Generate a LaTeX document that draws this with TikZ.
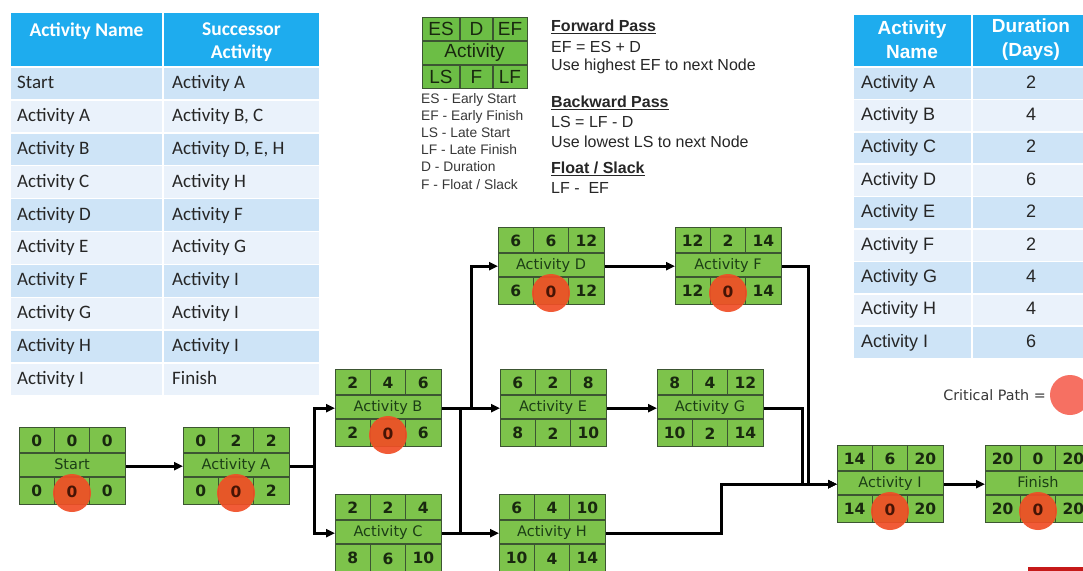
\documentclass[tikz,border=0pt]{standalone}
\usepackage{fontspec}
\usetikzlibrary{arrows.meta,calc}
\newfontfamily\calfont{Carlito}
\newfontfamily\arfont{Liberation Sans}
\newfontfamily\dvfont{DejaVu Sans}
\definecolor{hdrblue}{RGB}{30,172,238}
\definecolor{rowblue}{RGB}{206,228,247}
\definecolor{rowlight}{RGB}{234,242,251}
\definecolor{nodegreen}{RGB}{125,195,75}
\definecolor{legendgreen}{RGB}{108,190,69}
\definecolor{nodeborder}{RGB}{60,85,50}
\definecolor{critred}{RGB}{240,78,38}
\definecolor{critlegend}{RGB}{246,112,98}
\definecolor{numcol}{RGB}{25,40,15}
\definecolor{namecol}{RGB}{28,62,22}
\definecolor{zerocol}{RGB}{70,20,5}
\definecolor{txtgray}{RGB}{55,55,55}
\newif\ifcrit
\tikzset{
  actbox/.style={draw=nodeborder, fill=nodegreen, line width=1.3pt, minimum width=106pt, minimum height=77pt, inner sep=0pt, anchor=north west},
  gridline/.style={draw=nodeborder, line width=1.1pt},
  numtxt/.style={font=\dvfont\bfseries\fontsize{15.5}{18}\selectfont, text=numcol, inner sep=0pt},
  nametxt/.style={font=\dvfont\fontsize{14.5}{17}\selectfont, text=namecol, inner sep=0pt, text height=11pt, text depth=3pt},
  critdot/.style={fill=critred, opacity=0.92},
  conn/.style={line width=2.8pt, draw=black},
  arr/.style={conn, -{Triangle[length=9pt,width=8pt]}},
  cell/.style={draw=white, line width=1.5pt},
  ltxt/.style={font=\calfont\fontsize{19}{22}\selectfont, text=black!85, inner sep=0pt, text height=13pt, text depth=4pt},
  lhdr/.style={font=\calfont\bfseries\fontsize{19.5}{23}\selectfont, text=white, inner sep=0pt, align=center},
  rtxt/.style={font=\arfont\fontsize{18}{21}\selectfont, text=black!85, inner sep=0pt, text height=13pt, text depth=4pt},
  rhdr/.style={font=\arfont\bfseries\fontsize{19}{24}\selectfont, text=white, inner sep=0pt, align=center},
  legbig/.style={font=\arfont\fontsize{19}{22}\selectfont, text=numcol, inner sep=0pt},
  legsmall/.style={font=\arfont\fontsize{13.8}{16}\selectfont, text=txtgray, inner sep=0pt, anchor=west},
  passtxt/.style={font=\arfont\fontsize{16}{19}\selectfont, text=black!85, inner sep=0pt, anchor=west},
  passhead/.style={font=\arfont\bfseries\fontsize{16}{19}\selectfont, text=black!85, inner sep=0pt, anchor=west},
}
\newcommand{\cpmnode}[9]{%
  \ifcrit\def\fzcol{zerocol}\else\def\fzcol{numcol}\fi
  \node[actbox] (#1) at (#2) {};
  \draw[gridline] ($(#1.north west)+(0,26)$) -- ($(#1.north east)+(0,26)$);
  \draw[gridline] ($(#1.north west)+(0,50)$) -- ($(#1.north east)+(0,50)$);
  \foreach \dx in {35.33,70.67} {
    \draw[gridline] ($(#1.north west)+(\dx,0)$) -- ++(0,26);
    \draw[gridline] ($(#1.north west)+(\dx,50)$) -- ++(0,27);
  }
  \ifcrit \fill[critdot] ($(#1.north west)+(53,66)$) circle[radius=19]; \fi
  \node[numtxt] (#1-es) at ($(#1.north west)+(17.7,13.5)$) {#3};
  \node[numtxt] (#1-d)  at ($(#1.north west)+(53,13.5)$) {#4};
  \node[numtxt] (#1-ef) at ($(#1.north west)+(88.3,13.5)$) {#5};
  \node[nametxt] (#1-nm) at ($(#1.north west)+(53,38)$) {#6};
  \node[numtxt] (#1-ls) at ($(#1.north west)+(17.7,64)$) {#7};
  \node[numtxt, text=\fzcol] (#1-f)  at ($(#1.north west)+(53,64.5)$) {#8};
  \node[numtxt] (#1-lf) at ($(#1.north west)+(88.3,64)$) {#9};
}
\newcommand{\ltrow}[5]{%
  \filldraw[cell, fill=#2] (10,#1) rectangle (163,#1+32.9);
  \filldraw[cell, fill=#2] (163,#1) rectangle (320,#1+32.9);
  \node[ltxt, anchor=west] (lta#5) at (17,#1+16.9) {#3};
  \node[ltxt, anchor=west] (ltb#5) at (172,#1+16.9) {#4};
}
\newcommand{\rtrow}[5]{%
  \filldraw[cell, fill=#2] (853,#1) rectangle (972,#1+32.4);
  \filldraw[cell, fill=#2] (972,#1) rectangle (1095,#1+32.4);
  \node[rtxt, anchor=west] (rta#5) at (861,#1+16.6) {#3};
  \node[rtxt] (rtb#5) at (1031,#1+16.6) {#4};
}
\begin{document}
\begin{tikzpicture}[x=1pt,y=-1pt]
\useasboundingbox (0,0) rectangle (1083,570);
\fill[white] (0,0) rectangle (1083,570);
\clip (0,0) rectangle (1083,570);

% left table
\filldraw[cell, fill=hdrblue] (10,12) rectangle (163,67);
\filldraw[cell, fill=hdrblue] (163,12) rectangle (320,67);
\node[lhdr] (lh1) at (86.5,31) {Activity Name};
\node[lhdr] (lh2) at (241.5,42) {Successor\\Activity};
\ltrow{67}{rowblue}{Start}{Activity A}{0}
\ltrow{99.9}{rowlight}{Activity A}{Activity B, C}{1}
\ltrow{132.8}{rowblue}{Activity B}{Activity D, E, H}{2}
\ltrow{165.7}{rowlight}{Activity C}{Activity H}{3}
\ltrow{198.6}{rowblue}{Activity D}{Activity F}{4}
\ltrow{231.5}{rowlight}{Activity E}{Activity G}{5}
\ltrow{264.4}{rowblue}{Activity F}{Activity I}{6}
\ltrow{297.3}{rowlight}{Activity G}{Activity I}{7}
\ltrow{330.2}{rowblue}{Activity H}{Activity I}{8}
\ltrow{363.1}{rowlight}{Activity I}{Finish}{9}

% right table
\filldraw[cell, fill=hdrblue] (853,14) rectangle (972,67);
\filldraw[cell, fill=hdrblue] (972,14) rectangle (1095,67);
\node[rhdr] (rh1) at (912,40) {Activity\\Name};
\node[rhdr] (rh2) at (1031,40) {Duration\\(Days)};
\rtrow{67}{rowblue}{Activity A}{2}{1}
\rtrow{99.4}{rowlight}{Activity B}{4}{2}
\rtrow{131.8}{rowblue}{Activity C}{2}{3}
\rtrow{164.2}{rowlight}{Activity D}{6}{4}
\rtrow{196.6}{rowblue}{Activity E}{2}{5}
\rtrow{229}{rowlight}{Activity F}{2}{6}
\rtrow{261.4}{rowblue}{Activity G}{4}{7}
\rtrow{293.8}{rowlight}{Activity H}{4}{8}
\rtrow{326.2}{rowblue}{Activity I}{6}{9}

% legend box
\node[draw=nodeborder, fill=legendgreen, line width=1.4pt, minimum width=105pt, minimum height=71pt, inner sep=0pt, anchor=north west] (leg) at (422,17) {};
\draw[gridline] (422,41) -- (527,41);
\draw[gridline] (422,65) -- (527,65);
\draw[gridline] (460,17) -- (460,41);
\draw[gridline] (493,17) -- (493,41);
\draw[gridline] (460,65) -- (460,88);
\draw[gridline] (493,65) -- (493,88);
\node[legbig] (lg1) at (441,29) {ES};
\node[legbig] (lg2) at (476.5,29) {D};
\node[legbig] (lg3) at (510,29) {EF};
\node[legbig] (lg4) at (474.5,53) {Activity};
\node[legbig] (lg5) at (441,77) {LS};
\node[legbig] (lg6) at (476.5,77) {F};
\node[legbig] (lg7) at (510,77) {LF};
\node[legsmall] (ls1) at (421,100) {ES - Early Start};
\node[legsmall] (ls2) at (421,117) {EF - Early Finish};
\node[legsmall] (ls3) at (421,133) {LS - Late Start};
\node[legsmall] (ls4) at (421,150) {LF - Late Finish};
\node[legsmall] (ls5) at (421,167) {D - Duration};
\node[legsmall] (ls6) at (421,185) {F - Float / Slack};

\node[passhead] (p1) at (551,27) {\underline{Forward Pass}};
\node[passtxt] (p2) at (551,47) {EF = ES + D};
\node[passtxt] (p3) at (551,66) {Use highest EF to next Node};
\node[passhead] (p4) at (551,103) {\underline{Backward Pass}};
\node[passtxt] (p5) at (551,122) {LS = LF - D};
\node[passtxt] (p6) at (551,142) {Use lowest LS to next Node};
\node[passhead] (p7) at (551,169) {\underline{Float / Slack}};
\node[passtxt] (p8) at (551,188) {LF -~~EF};

% critical path legend
\node[font=\dvfont\fontsize{14.3}{17}\selectfont, text=txtgray, inner sep=0pt, anchor=east] (cpt) at (1046,395) {Critical Path =};
\fill[critlegend] (1070,395) circle[radius=20];
\fill[red!75!black!90] (1028,567) rectangle (1095,575);

% network nodes
\crittrue
\cpmnode{S}{19,427}{0}{0}{0}{Start}{0}{0}{0}
\cpmnode{A}{183,427}{0}{2}{2}{Activity A}{0}{0}{2}
\cpmnode{B}{335,369}{2}{4}{6}{Activity B}{2}{0}{6}
\critfalse
\cpmnode{C}{335,494}{2}{2}{4}{Activity C}{8}{6}{10}
\crittrue
\cpmnode{D}{498,227}{6}{6}{12}{Activity D}{6}{0}{12}
\critfalse
\cpmnode{E}{500,369}{6}{2}{8}{Activity E}{8}{2}{10}
\cpmnode{H}{499,494}{6}{4}{10}{Activity H}{10}{4}{14}
\crittrue
\cpmnode{F}{675,227}{12}{2}{14}{Activity F}{12}{0}{14}
\critfalse
\cpmnode{G}{657,369}{8}{4}{12}{Activity G}{10}{2}{14}
\crittrue
\cpmnode{I}{837,445}{14}{6}{20}{Activity I}{14}{0}{20}
\cpmnode{Fin}{985,445}{20}{0}{20}{Finish}{20}{0}{20}
\critfalse

% connectors
\coordinate (jA) at ($(A.east)+(24,0)$);
\coordinate (jB) at ($(B.east)+(29,0)$);
\coordinate (jB2) at ($(B.east)+(18,0)$);
\draw[arr] (S.east) -- (A.west);
\draw[conn] (A.east) -- (jA);
\draw[arr] (jA) |- (B.west);
\draw[arr] (jA) |- (C.west);
\draw[arr] (B.east) -- (E.west);
\draw[arr] (jB) |- (D.west);
\draw[conn] (jB2) -- (jB2 |- H.west);
\draw[arr] (C.east) -- (H.west);
\draw[arr] (D.east) -- (F.west);
\draw[arr] (E.east) -- (G.west);
\draw[arr] (F.east) -- ++(26,0) |- (I.west);
\draw[arr] (G.east) -- ++(38,0) |- (I.west);
\coordinate (jH) at ($(H.east)+(115,0)$);
\draw[arr] (H.east) -- (jH) |- (I.west);
\draw[arr] (I.east) -- (Fin.west);
\end{tikzpicture}
\end{document}
